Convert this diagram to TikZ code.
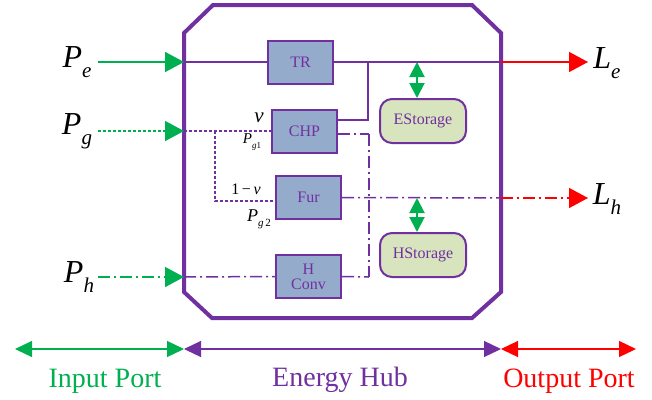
\documentclass[tikz,border=0pt]{standalone}
\usepackage{fontspec}
\setmainfont{Liberation Serif}
\usetikzlibrary{arrows.meta}
\definecolor{hubpurple}{HTML}{7030A0}
\definecolor{ingreen}{HTML}{00B050}
\definecolor{outred}{HTML}{FF0000}
\definecolor{devblue}{HTML}{95ABCB}
\definecolor{storegreen}{HTML}{D7E4BD}
\tikzset{
  hub/.style={draw=hubpurple, line width=4pt, line join=miter},
  dev/.style={draw=hubpurple, line width=2pt, fill=devblue, minimum width=65pt, minimum height=43pt, inner sep=0pt, text=hubpurple, font=\fontsize{16}{15}\selectfont, align=center},
  store/.style={draw=hubpurple, line width=2pt, fill=storegreen, rounded corners=12pt, minimum width=86pt, minimum height=44pt, inner sep=0pt, text=hubpurple, font=\fontsize{16}{15}\selectfont},
  eline/.style={draw=hubpurple, line width=1.5pt},
  gline/.style={draw=hubpurple, line width=1.5pt, dash pattern=on 3pt off 2pt},
  hline/.style={draw=hubpurple, line width=1.5pt, dash pattern=on 12pt off 4pt on 2pt off 4pt},
  bigtip/.style={-{Triangle[length=19pt,width=20pt]}},
  stip/.style={{Triangle[length=15pt,width=15pt]}-{Triangle[length=15pt,width=15pt]}},
  porttip/.style={{Triangle[length=17pt,width=16pt]}-{Triangle[length=17pt,width=16pt]}},
  biglab/.style={font=\fontsize{32}{32}\selectfont, inner sep=0pt},
  smalllab/.style={inner sep=0pt},
  portlab/.style={font=\fontsize{28}{28}\selectfont, inner sep=0pt, anchor=base}
}
\begin{document}
\begin{tikzpicture}[x=1pt,y=-1pt]
\useasboundingbox (0,0) rectangle (652,399);

% hub outline
\draw[hub] (184,33) -- (213,5) -- (472,5) -- (501,33) -- (501,292) -- (472,318) -- (212,318) -- (184,292) -- cycle;

% devices
\node[dev] (TR) at (300.5,62) {TR};
\node[dev] (CHP) at (304.5,131) {CHP};
\node[dev] (Fur) at (308.5,197.5) {Fur};
\node[dev] (HC) at (308.5,276.5) {H\\Conv};
\node[store] (ES) at (423,121) {EStorage};
\node[store] (HS) at (423,255) {HStorage};

% coordinates
\coordinate (peS) at (98,62);
\coordinate (peIn) at (184,62);
\coordinate (peOut) at (501,62);
\coordinate (leTip) at (588,62);
\coordinate (pgS) at (98,131);
\coordinate (pgIn) at (184,131);
\coordinate (split) at (215,131);
\coordinate (phS) at (98,277);
\coordinate (phIn) at (184,277);
\coordinate (jn) at (368,62);
\coordinate (hv1) at (369,134);
\coordinate (hv2) at (369,277);
\coordinate (lhOut) at (501,198);
\coordinate (lhTip) at (588,198);
\coordinate (esA) at (417,62);
\coordinate (hsA) at (417,198);

% input arrows
\draw[ingreen, line width=1.5pt, bigtip] (peS) -- (peIn);
\draw[ingreen, line width=1.5pt, dash pattern=on 3pt off 2pt, bigtip] (pgS) -- (pgIn);
\draw[ingreen, line width=1.5pt, dash pattern=on 12pt off 4pt on 2pt off 4pt, bigtip] (phS) -- (phIn);

% electricity
\draw[eline] (peIn) -- (TR.west);
\draw[eline] (TR.east) -- (peOut);
\draw[eline] ([yshift=11pt]CHP.east) -| (jn);
\draw[outred, line width=1.5pt, bigtip] (peOut) -- (leTip);

% gas
\draw[gline] (pgIn) -- (CHP.west);
\draw[gline] (split) |- ([yshift=-3.5pt]Fur.west);

% heat
\draw[hline] ([yshift=-3pt]CHP.east) -- (hv1);
\draw[hline] (hv1) -- (hv2);
\draw[hline] (HC.east) -- (hv2);
\draw[hline] (phIn) -- (HC.west);
\draw[hline] (Fur.east) -- (lhOut);
\draw[outred, line width=1.5pt, dash pattern=on 12pt off 4pt on 2pt off 4pt, bigtip] (lhOut) -- (lhTip);

% storage links
\draw[ingreen, line width=2pt, stip] (esA) -- (esA |- ES.north);
\draw[ingreen, line width=2pt, stip] (hsA) -- (hsA |- HS.north);

% port labels
\node[biglab] (Pe) at (77,62) {\textit{P}\raisebox{-0.3em}{\fontsize{21}{21}\selectfont\textit{e}}};
\node[biglab] (Pg) at (77,131) {\textit{P}\raisebox{-0.3em}{\fontsize{21}{21}\selectfont\textit{g}}};
\node[biglab] (Ph) at (79,277) {\textit{P}\raisebox{-0.3em}{\fontsize{21}{21}\selectfont\textit{h}}};
\node[biglab] (Le) at (607,63) {\textit{L}\raisebox{-0.3em}{\fontsize{21}{21}\selectfont\textit{e}}};
\node[biglab] (Lh) at (607,199) {\textit{L}\raisebox{-0.3em}{\fontsize{21}{21}\selectfont\textit{h}}};

% split labels
\node[smalllab, font=\fontsize{21}{21}\selectfont] (v1) at (259,118) {\textit{v}};
\node[smalllab, font=\fontsize{15}{15}\selectfont] (pg1) at (252,142) {\textit{P}\raisebox{-0.3em}{\fontsize{9}{9}\selectfont\textit{g}1}};
\node[smalllab, font=\fontsize{16}{16}\selectfont] (v2) at (246,189) {1\,\textminus\,\textit{v}};
\node[smalllab, font=\fontsize{18}{18}\selectfont] (pg2) at (259,219) {\textit{P}\raisebox{-0.3em}{\fontsize{11}{11}\selectfont\textit{g}\,2}};

% bottom port ranges
\coordinate (b0) at (15,349);
\coordinate (b1) at (184,349);
\coordinate (b2) at (501,349);
\coordinate (b3) at (636,349);
\draw[ingreen, line width=1.2pt, porttip] (b0) -- (b1);
\draw[hubpurple, line width=1.2pt, porttip] (b1) -- (b2);
\draw[outred, line width=1.2pt, porttip] (b2) -- (b3);
\node[portlab, text=ingreen] (ip) at (105,387) {Input Port};
\node[portlab, text=hubpurple] (eh) at (340,386) {Energy Hub};
\node[portlab, text=outred] (op) at (569,387) {Output Port};
\end{tikzpicture}
\end{document}
